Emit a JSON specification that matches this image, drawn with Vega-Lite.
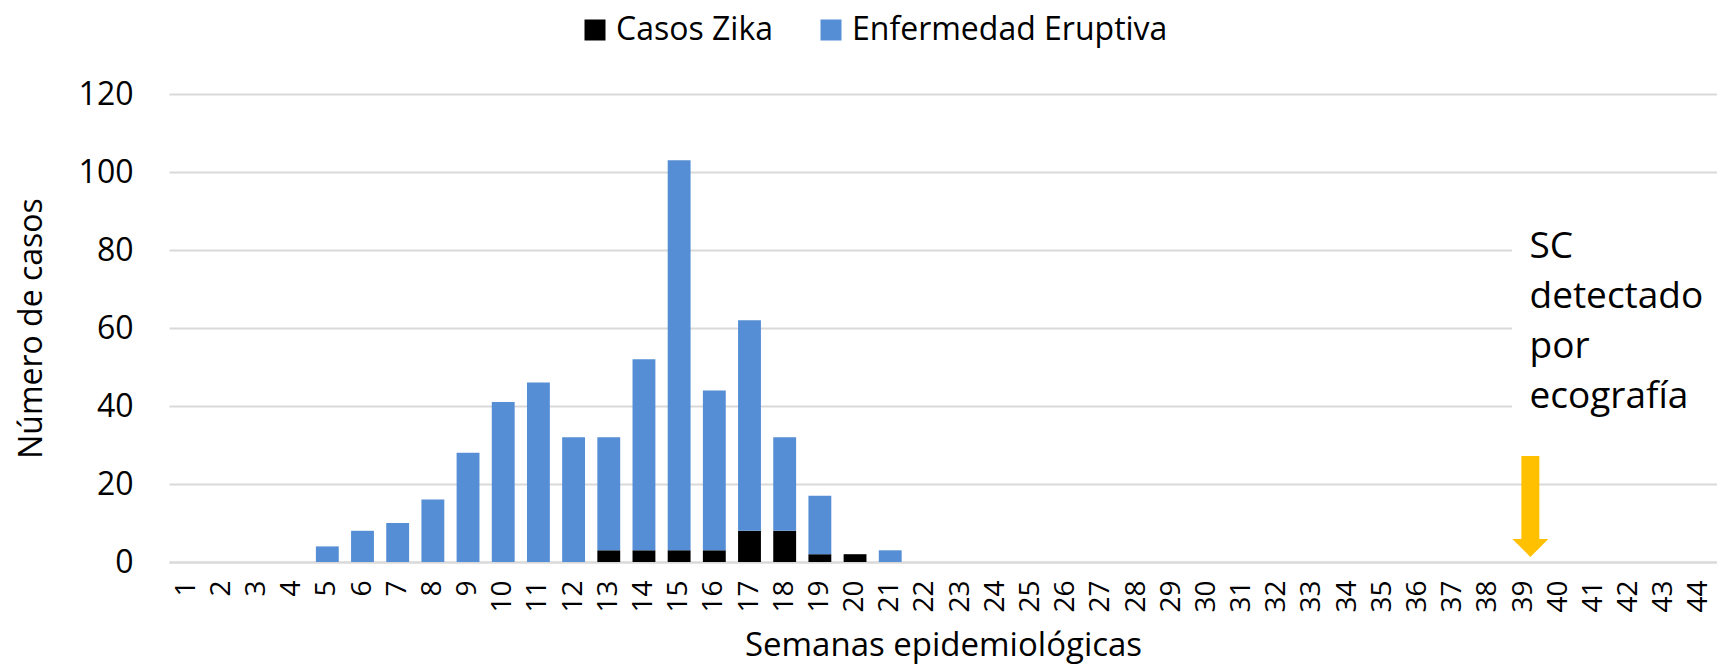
{
  "$schema": "https://vega.github.io/schema/vega-lite/v6.json",
  "autosize": "none",
  "width": 1548,
  "height": 468,
  "padding": {"left": 169, "top": 94, "right": 0, "bottom": 104},
  "background": "white",
  "config": {
    "view": {"stroke": null},
    "font": "Open Sans",
    "axis": {"labelFont": "Open Sans", "titleFont": "Open Sans", "labelColor": "#000000", "titleColor": "#000000", "titleFontWeight": "normal"},
    "legend": {"labelFont": "Open Sans", "labelColor": "#000000"}
  },
  "datasets": {
    "casos": [
      {"week": 5, "serie": "Enfermedad Eruptiva", "n": 4},
      {"week": 6, "serie": "Enfermedad Eruptiva", "n": 8},
      {"week": 7, "serie": "Enfermedad Eruptiva", "n": 10},
      {"week": 8, "serie": "Enfermedad Eruptiva", "n": 16},
      {"week": 9, "serie": "Enfermedad Eruptiva", "n": 28},
      {"week": 10, "serie": "Enfermedad Eruptiva", "n": 41},
      {"week": 11, "serie": "Enfermedad Eruptiva", "n": 46},
      {"week": 12, "serie": "Enfermedad Eruptiva", "n": 32},
      {"week": 13, "serie": "Casos Zika", "n": 3},
      {"week": 13, "serie": "Enfermedad Eruptiva", "n": 29},
      {"week": 14, "serie": "Casos Zika", "n": 3},
      {"week": 14, "serie": "Enfermedad Eruptiva", "n": 49},
      {"week": 15, "serie": "Casos Zika", "n": 3},
      {"week": 15, "serie": "Enfermedad Eruptiva", "n": 100},
      {"week": 16, "serie": "Casos Zika", "n": 3},
      {"week": 16, "serie": "Enfermedad Eruptiva", "n": 41},
      {"week": 17, "serie": "Casos Zika", "n": 8},
      {"week": 17, "serie": "Enfermedad Eruptiva", "n": 54},
      {"week": 18, "serie": "Casos Zika", "n": 8},
      {"week": 18, "serie": "Enfermedad Eruptiva", "n": 24},
      {"week": 19, "serie": "Casos Zika", "n": 2},
      {"week": 19, "serie": "Enfermedad Eruptiva", "n": 15},
      {"week": 20, "serie": "Casos Zika", "n": 2},
      {"week": 21, "serie": "Enfermedad Eruptiva", "n": 3}
    ],
    "arrow": [{"week": 39, "top": 27.2, "bottom": 5.5, "head": 3.6}],
    "box": [{"week": 39, "week2": 44, "y1": 93, "y2": 31}],
    "note": [{"week": 39, "y": 77.9, "label": ["SC", "detectado", "por", "ecografía"]}]
  },
  "encoding": {
    "x": {
      "field": "week",
      "type": "ordinal",
      "scale": {
        "domain": [1,2,3,4,5,6,7,8,9,10,11,12,13,14,15,16,17,18,19,20,21,22,23,24,25,26,27,28,29,30,31,32,33,34,35,36,37,38,39,40,41,42,43,44],
        "paddingInner": 0.35,
        "paddingOuter": 0.175
      },
      "axis": {
        "title": "Semanas epidemiológicas",
        "titleFontSize": 33,
        "titlePadding": 17,
        "labelFontSize": 28,
        "labelAngle": -90,
        "labelPadding": 18,
        "ticks": false,
        "domainColor": "#d9d9d9",
        "domainWidth": 2,
        "grid": false
      }
    }
  },
  "layer": [
    {
      "data": {"name": "casos"},
      "mark": {"type": "bar"},
      "encoding": {
        "y": {
          "field": "n",
          "type": "quantitative",
          "stack": "zero",
          "scale": {"domain": [0, 120], "nice": false},
          "axis": {
            "title": "Número de casos",
            "titleFontSize": 32,
            "titlePadding": 30,
            "labelFontSize": 32,
            "labelPadding": 36,
            "values": [0, 20, 40, 60, 80, 100, 120],
            "ticks": false,
            "domain": false,
            "gridColor": "#d9d9d9",
            "gridWidth": 2
          }
        },
        "color": {
          "field": "serie",
          "type": "nominal",
          "scale": {"domain": ["Casos Zika", "Enfermedad Eruptiva"], "range": ["#000000", "#558ed5"]},
          "legend": {
            "title": null,
            "orient": "none",
            "direction": "horizontal",
            "legendX": 410,
            "legendY": -80,
            "symbolType": "square",
            "symbolSize": 441,
            "symbolStrokeWidth": 0,
            "symbolOpacity": 1,
            "labelFontSize": 32,
            "labelOffset": 5,
            "labelLimit": 0,
            "columnPadding": 42
          }
        },
        "order": {"field": "serie", "sort": "ascending"}
      }
    },
    {
      "data": {"name": "box"},
      "mark": {"type": "rect", "fill": "white", "stroke": null},
      "encoding": {
        "x": {"field": "week", "type": "ordinal", "bandPosition": 0},
        "x2": {"field": "week2", "bandPosition": 1.5},
        "y": {"field": "y1", "type": "quantitative"},
        "y2": {"field": "y2"}
      }
    },
    {
      "data": {"name": "arrow"},
      "mark": {"type": "rule", "color": "#ffc000", "strokeWidth": 18, "strokeCap": "butt"},
      "encoding": {
        "x": {"field": "week", "type": "ordinal", "bandPosition": 0.8},
        "y": {"field": "top", "type": "quantitative"},
        "y2": {"field": "bottom"}
      }
    },
    {
      "data": {"name": "arrow"},
      "mark": {"type": "point", "shape": "M-1,-0.5L1,-0.5L0,0.5Z", "filled": true, "color": "#ffc000", "opacity": 1, "size": 1296, "strokeWidth": 0},
      "encoding": {
        "x": {"field": "week", "type": "ordinal", "bandPosition": 0.8},
        "y": {"field": "head", "type": "quantitative"}
      }
    },
    {
      "data": {"name": "note"},
      "mark": {"type": "text", "align": "left", "baseline": "alphabetic", "dx": 6, "fontSize": 37, "lineHeight": 50, "color": "#000000", "font": "Open Sans"},
      "encoding": {
        "y": {"field": "y", "type": "quantitative"},
        "text": {"field": "label"}
      }
    }
  ]
}
